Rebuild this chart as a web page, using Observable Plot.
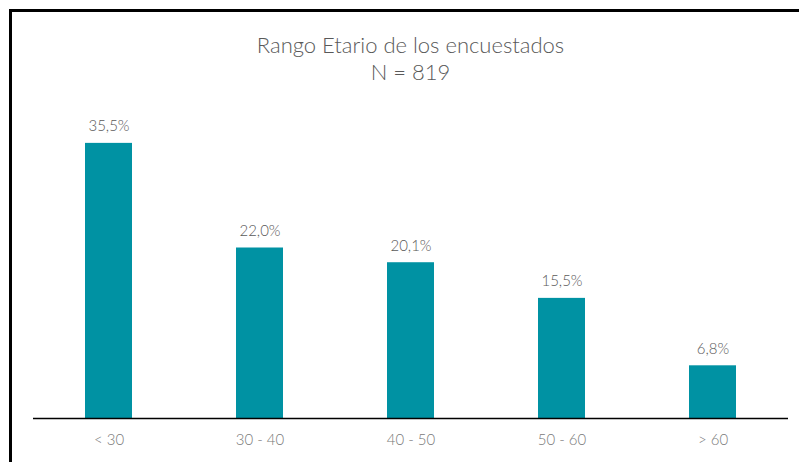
<!DOCTYPE html>
<html>
<head>
<meta charset="utf-8">
<script src="https://cdn.jsdelivr.net/npm/d3@7"></script>
<script src="https://cdn.jsdelivr.net/npm/@observablehq/plot@0.6"></script>
<style>
  html, body { margin: 0; padding: 0; background: #fff; }
  #wrap { position: relative; width: 799px; height: 462px; overflow: hidden; font-family: Lato, "Open Sans", sans-serif; }
  #frame { position: absolute; left: 9px; top: 9px; width: 820px; height: 480px; border-left: 3px solid #000; border-top: 3px solid #000; box-sizing: border-box; }
  #title { position: absolute; left: 0; width: 821px; top: 31px; text-align: center; color: #595959; font-size: 22px; font-weight: 300; line-height: 27px; }
  #chart { position: absolute; left: 0; top: 0; }
</style>
</head>
<body>
<div id="wrap">
  <div id="chart"></div>
  <div id="frame"></div>
  <div id="title">Rango Etario de los encuestados<br>N = 819</div>
</div>
<script>
const categories = ["< 30", "30 - 40", "40 - 50", "50 - 60", "> 60"];
const values = [35.5, 22.0, 20.1, 15.5, 6.8];

const data = categories.map((c, i) => ({cat: c, val: values[i]}));
const fmt = v => v.toFixed(1).replace(".", ",") + "%";

const chart = Plot.plot({
  width: 799,
  height: 462,
  marginLeft: 33,
  marginRight: 11,
  marginTop: 108,
  marginBottom: 44,
  style: {fontFamily: "Lato, 'Open Sans', sans-serif", background: "transparent"},
  x: {domain: categories, paddingInner: 0.69, paddingOuter: 0.345, label: null},
  y: {domain: [0, 40], axis: null},
  marks: [
    Plot.barY(data, {x: "cat", y: "val", fill: "#0092A3"}),
    Plot.ruleY([0], {stroke: "#000", strokeWidth: 1.5}),
    Plot.text(data, {x: "cat", y: "val", text: d => fmt(d.val), dy: -17, fontSize: 15, fill: "#595959", fontWeight: 300}),
    Plot.axisX({tickSize: 0, tickPadding: 16, fontSize: 15, color: "#7a7a7a", fontWeight: 300, label: null})
  ]
});
document.getElementById("chart").appendChild(chart);
</script>
</body>
</html>
